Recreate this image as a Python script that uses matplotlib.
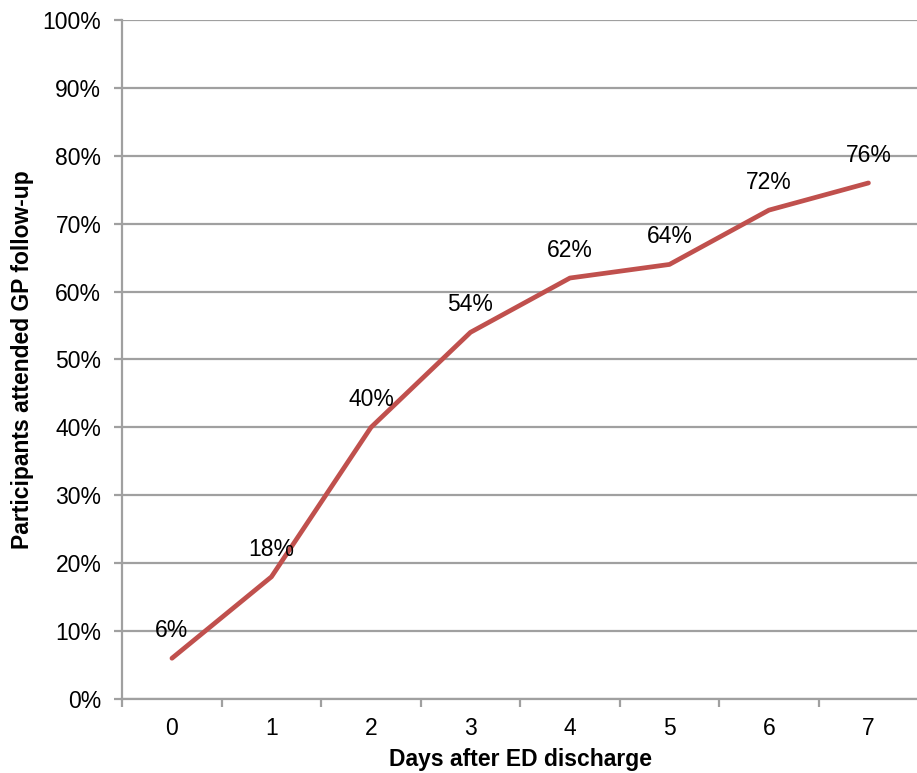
import matplotlib
matplotlib.use("Agg")
import matplotlib.pyplot as plt
from matplotlib.ticker import FixedLocator

days = [0, 1, 2, 3, 4, 5, 6, 7]
day_labels = ["0", "1", "2", "3", "4", "5", "6", "7"]
attended_pct = [6, 18, 40, 54, 62, 64, 72, 76]
y_ticks = [0, 10, 20, 30, 40, 50, 60, 70, 80, 90, 100]
y_tick_labels = [f"{v}%" for v in y_ticks]

plt.rcParams['font.family'] = ['Liberation Sans', 'DejaVu Sans']

fig = plt.figure(figsize=(9.17, 7.73), dpi=100)
ax = fig.add_axes([122.2 / 917, 74 / 773, 796 / 917, 679 / 773])

grid_color = "#A0A0A0"
fs = 16.5
ax.set_xlim(-0.5, 7.5)
ax.set_ylim(0, 100)
ax.set_yticks(y_ticks)
ax.set_yticklabels(y_tick_labels, fontsize=fs)
ax.yaxis.grid(True, color=grid_color, linewidth=1.6)
ax.set_axisbelow(True)

ax.set_xticks(days)
ax.set_xticklabels(day_labels, fontsize=fs)
ax.tick_params(axis='x', which='major', length=0, pad=13)
ax.xaxis.set_minor_locator(FixedLocator([d + 0.5 for d in days[:-1]] + [-0.5]))
ax.tick_params(axis='x', which='minor', length=6, width=1.6, color=grid_color, direction='out')
ax.tick_params(axis='y', length=6, width=1.6, color=grid_color, direction='out', pad=9)

for s in ['top', 'right']:
    ax.spines[s].set_visible(False)
for s in ['left', 'bottom']:
    ax.spines[s].set_color(grid_color)
    ax.spines[s].set_linewidth(1.6)

ax.plot(days, attended_pct, color="#C0504D", linewidth=3.4, solid_capstyle='round', clip_on=False, zorder=3)

for d, v in zip(days, attended_pct):
    ax.annotate(f"{v}%", (d, v), xytext=(0, 20), textcoords='offset points',
                ha='center', va='center', fontsize=fs, zorder=4)

ax.set_xlabel("Days after ED discharge", fontsize=fs, fontweight='bold', labelpad=6)
ax.set_ylabel("Participants attended GP follow-up", fontsize=fs, fontweight='bold', labelpad=6)

fig.savefig("out.png", dpi=100)
